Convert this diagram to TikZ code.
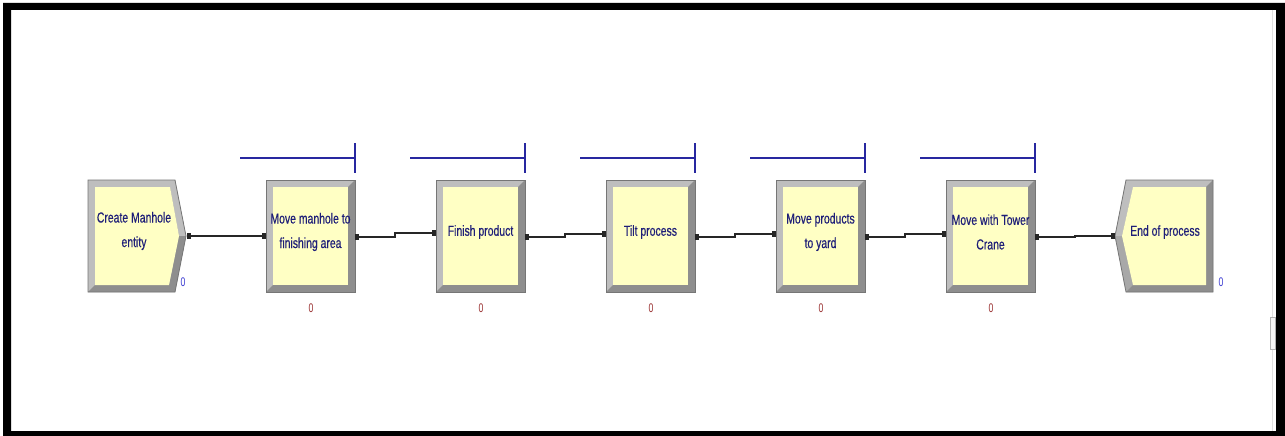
\documentclass[tikz,border=0pt]{standalone}
\usepackage{fontspec}
\newfontfamily\arenafont[FakeStretch=0.72,FakeBold=0.4]{Liberation Sans}
\newfontfamily\countfont[FakeStretch=0.7]{Liberation Sans}
\usetikzlibrary{arrows.meta}

\definecolor{blockfill}{RGB}{255,255,196}
\definecolor{bevelmid}{RGB}{168,168,168}
\definecolor{bevellight}{RGB}{190,190,190}
\definecolor{beveldark}{RGB}{142,142,142}
\definecolor{bevelline}{RGB}{118,118,118}
\definecolor{labelblue}{RGB}{30,30,120}
\definecolor{queueblue}{RGB}{40,40,160}
\definecolor{countred}{RGB}{155,50,50}
\definecolor{countblue}{RGB}{60,60,210}

\tikzset{
  blocktext/.style={font=\arenafont\fontsize{14.5}{24.5}\selectfont, text=labelblue,
    align=center, inner sep=0pt},
  blockbox/.style={inner sep=0pt, minimum height=112pt},
  countlabel/.style={font=\countfont\fontsize{12.5}{13}\selectfont, inner sep=0pt},
  queueline/.style={draw=queueblue, line width=1.4pt},
  conn/.style={draw=black!85, line width=1.8pt,
    {Square[length=3.5pt,width=6pt]}-{Square[length=3.5pt,width=6pt]}},
}

% Process module: name, left edge, label
\newcommand\procblock[3]{%
  \begin{scope}[shift={(#2,180)}]
    \fill[bevelmid] (0,0) rectangle (89,112);
    \fill[bevellight] (0,0) -- (89,0) -- (82,7) -- (7,7) -- (7,105) -- (0,112) -- cycle;
    \fill[beveldark] (0,112) -- (89,112) -- (89,0) -- (82,7) -- (82,105) -- (7,105) -- cycle;
    \fill[blockfill] (7,7) rectangle (82,105);
    \draw[bevelline, line width=0.8pt] (0,0) rectangle (89,112);
    \node[blockbox, minimum width=89pt] (#1) at (44.5,56) {};
    \node[blocktext] (#1-text) at (44.5,52) {#3};
    \path[queueline] (-26,-22) -- (89,-22) (89,-37) -- (89,-7);
    \node[countlabel, text=countred] (#1-count) at (45,128) {0};
  \end{scope}%
}

\begin{document}
\begin{tikzpicture}[x=1pt, y=-1pt]
  \useasboundingbox (0,0) rectangle (1285,436);
  \fill[white] (0,0) rectangle (1285,436);

  % window frame
  \fill[black, even odd rule] (3,3) rectangle (1285,436) (11,10) rectangle (1276,431);
  \draw[black!12, line width=0.8pt] (1272,10) -- (1272,431);
  \draw[black!30, line width=0.6pt, fill=black!4] (1270,317) rectangle (1275,349);

  % Create module
  \fill[bevelmid] (88,180) -- (175,180) -- (186,236) -- (175,292) -- (88,292) -- cycle;
  \fill[bevellight] (88,180) -- (175,180) -- (186,236) -- (179,236) -- (170,187) -- (95,187) -- (95,285) -- (88,292) -- cycle;
  \fill[beveldark] (88,292) -- (175,292) -- (186,236) -- (179,236) -- (169,285) -- (95,285) -- cycle;
  \fill[blockfill] (95,187) -- (170,187) -- (179,236) -- (169,285) -- (95,285) -- cycle;
  \draw[bevelline, line width=0.8pt] (88,180) -- (175,180) -- (186,236) -- (175,292) -- (88,292) -- cycle;
  \node[blockbox, minimum width=99pt] (create) at (137.5,236) {};
  \node[blocktext] (create-text) at (134,231) {Create Manhole\\entity};
  \node[countlabel, text=countblue] (create-count) at (183,282) {0};

  % Process modules
  \procblock{move}{266}{Move manhole to\\finishing area}
  \procblock{finish}{436}{Finish product}
  \procblock{tilt}{606}{Tilt process}
  \procblock{yard}{776}{Move products\\to yard}
  \procblock{crane}{946}{Move with Tower\\Crane}

  % Dispose module
  \fill[bevelmid] (1126,180) -- (1213,180) -- (1213,292) -- (1126,292) -- (1115,236) -- cycle;
  \fill[bevellight] (1115,236) -- (1126,180) -- (1213,180) -- (1206,187) -- (1133,187) -- (1122,236) -- cycle;
  \fill[beveldark] (1213,180) -- (1213,292) -- (1126,292) -- (1133,285) -- (1206,285) -- (1206,187) -- cycle;
  \fill[blockfill] (1133,187) -- (1206,187) -- (1206,285) -- (1133,285) -- (1122,236) -- cycle;
  \draw[bevelline, line width=0.8pt] (1126,180) -- (1213,180) -- (1213,292) -- (1126,292) -- (1115,236) -- cycle;
  \node[blockbox, minimum width=98pt] (dispose) at (1164,236) {};
  \node[blocktext] (dispose-text) at (1165,232) {End of process};
  \node[countlabel, text=countblue] (dispose-count) at (1221,282) {0};

  % Connectors
  \path[conn] (create.east) -- (move.west);
  \path[conn] ([yshift=-1pt]move.east) -- ++(40,0) -- ++(0,-4) -- ([yshift=3pt]finish.west);
  \path[conn] ([yshift=-1pt]finish.east) -- ++(40,0) -- ++(0,-3) -- ([yshift=2pt]tilt.west);
  \path[conn] ([yshift=-1pt]tilt.east) -- ++(40,0) -- ++(0,-3) -- ([yshift=2pt]yard.west);
  \path[conn] ([yshift=-1pt]yard.east) -- ++(40,0) -- ++(0,-3) -- ([yshift=2pt]crane.west);
  \path[conn] ([yshift=-1pt]crane.east) -- ++(40,0) -- ++(0,-1) -- (dispose.west);
\end{tikzpicture}
\end{document}
